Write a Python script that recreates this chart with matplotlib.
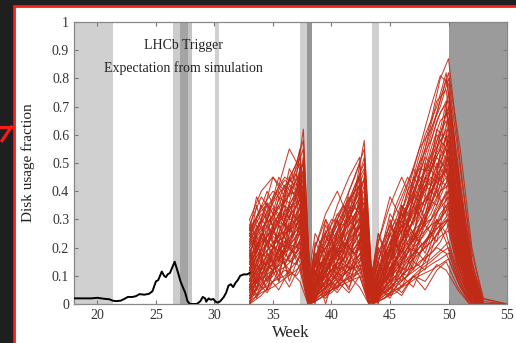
import numpy as np
import matplotlib
matplotlib.use("Agg")
import matplotlib.pyplot as plt
from matplotlib.patches import Rectangle
from matplotlib.lines import Line2D

plt.rcParams['font.family'] = ['Liberation Serif', 'DejaVu Serif']

# measured disk usage (black line)
meas_weeks = [18.0, 18.5, 19.0, 19.5, 20.0, 20.3, 20.7, 21.0, 21.3, 21.6, 22.0, 22.3, 22.6,
              23.0, 23.3, 23.6, 24.0, 24.4, 24.7, 25.0, 25.2, 25.35, 25.5, 25.7, 25.85,
              26.0, 26.2, 26.4, 26.6, 26.75, 26.9, 27.1, 27.3, 27.5, 27.7, 27.9, 28.5,
              28.8, 29.0, 29.2, 29.3, 29.5, 29.7, 29.9, 30.1, 30.3, 30.5, 30.8, 31.0,
              31.2, 31.4, 31.6, 31.8, 32.0, 32.2, 32.5, 32.8, 33.0]
meas_usage = [0.02, 0.02, 0.02, 0.02, 0.022, 0.02, 0.018, 0.017, 0.012, 0.01, 0.012, 0.018, 0.025,
              0.025, 0.028, 0.035, 0.033, 0.036, 0.045, 0.08, 0.085, 0.10, 0.115, 0.10, 0.095,
              0.105, 0.11, 0.13, 0.15, 0.13, 0.11, 0.08, 0.06, 0.04, 0.01, 0.0, 0.0,
              0.01, 0.025, 0.02, 0.008, 0.02, 0.015, 0.018, 0.008, 0.005, 0.01, 0.025, 0.04,
              0.065, 0.07, 0.06, 0.075, 0.085, 0.10, 0.105, 0.105, 0.11]

# simulated trajectories (red lines), values in percent, two sampling grids
sim_weeks_a = [33, 34, 35, 36, 37, 37.6, 38.2, 39, 40, 41, 42, 42.8, 43.5, 44.5, 45.5,
               46.5, 47.5, 48.5, 49.3, 50, 51, 52, 53, 55]
sim_pct_a = [
    [5, 12, 20, 30, 45, 62, 2, 8, 15, 25, 40, 58, 3, 10, 20, 35, 50, 65, 80, 87, 50, 15, 0, 0],
    [10, 18, 25, 22, 35, 48, 0, 5, 12, 18, 30, 45, 0, 12, 25, 40, 55, 70, 81, 78, 40, 10, 0, 0],
    [20, 30, 45, 38, 40, 52, 5, 15, 10, 20, 28, 38, 2, 8, 15, 30, 45, 60, 72, 82, 55, 20, 0, 0],
    [2, 8, 15, 25, 28, 35, 0, 10, 20, 15, 25, 30, 0, 5, 18, 28, 40, 48, 55, 60, 30, 5, 0, 0],
    [15, 25, 20, 30, 38, 44, 3, 12, 22, 30, 42, 50, 5, 20, 30, 28, 38, 45, 42, 55, 28, 8, 0, 0],
    [0, 5, 10, 18, 22, 30, 0, 3, 8, 14, 20, 25, 0, 4, 10, 20, 25, 35, 45, 50, 25, 5, 0, 0],
    [25, 35, 30, 40, 50, 58, 8, 20, 30, 28, 38, 47, 6, 15, 25, 40, 48, 47, 60, 70, 35, 12, 0, 0],
    [8, 15, 12, 20, 26, 32, 0, 6, 15, 22, 18, 28, 0, 8, 12, 18, 28, 30, 38, 45, 20, 3, 0, 0],
    [12, 20, 28, 35, 30, 40, 2, 18, 25, 35, 30, 42, 4, 12, 28, 35, 45, 42, 50, 58, 32, 10, 0, 0],
    [3, 6, 12, 15, 20, 25, 0, 2, 5, 10, 15, 20, 0, 6, 10, 15, 20, 25, 30, 35, 15, 2, 0, 0],
    [18, 28, 38, 45, 42, 50, 4, 10, 20, 32, 40, 52, 2, 18, 35, 45, 38, 50, 62, 75, 42, 15, 0, 0],
    [6, 10, 18, 14, 22, 28, 0, 8, 12, 10, 20, 26, 0, 3, 8, 12, 22, 28, 35, 40, 18, 4, 0, 0],
    [22, 30, 25, 32, 40, 46, 6, 14, 18, 26, 35, 40, 3, 10, 22, 30, 40, 55, 65, 68, 38, 10, 0, 0],
    [0, 3, 8, 10, 15, 18, 0, 4, 8, 12, 10, 15, 0, 2, 6, 10, 15, 18, 22, 28, 12, 0, 0, 0],
    [14, 22, 30, 28, 35, 40, 2, 12, 18, 25, 32, 36, 5, 14, 20, 25, 35, 38, 48, 52, 26, 6, 0, 0],
    [28, 38, 32, 42, 38, 45, 10, 22, 28, 35, 45, 55, 8, 22, 30, 42, 55, 62, 70, 80, 48, 18, 2, 0],
    [4, 10, 14, 20, 18, 24, 0, 5, 10, 8, 14, 18, 0, 5, 12, 10, 18, 25, 28, 32, 14, 2, 0, 0],
    [10, 16, 22, 26, 32, 36, 3, 8, 14, 20, 26, 32, 2, 8, 16, 22, 30, 40, 45, 48, 22, 5, 0, 0],
    [16, 24, 18, 26, 30, 34, 0, 10, 16, 22, 18, 24, 0, 10, 15, 22, 26, 32, 40, 42, 20, 4, 0, 0],
    [30, 40, 45, 40, 48, 55, 5, 16, 24, 32, 42, 48, 6, 16, 28, 38, 50, 58, 68, 72, 40, 14, 0, 0],
    [7, 12, 16, 22, 26, 28, 0, 6, 10, 16, 22, 22, 0, 6, 12, 16, 20, 24, 32, 36, 16, 3, 0, 0],
    [12, 18, 15, 22, 20, 26, 2, 4, 8, 14, 12, 18, 0, 8, 14, 20, 18, 22, 26, 30, 12, 2, 0, 0],
    [20, 26, 34, 30, 38, 42, 4, 12, 20, 18, 28, 34, 2, 12, 18, 26, 32, 42, 48, 55, 30, 8, 0, 0],
    [2, 5, 8, 12, 10, 14, 0, 2, 4, 8, 10, 12, 0, 2, 4, 8, 12, 15, 18, 20, 8, 0, 0, 0],
    [24, 32, 28, 36, 44, 50, 8, 18, 22, 30, 36, 44, 4, 14, 24, 32, 42, 52, 58, 62, 36, 12, 0, 0],
    [9, 14, 20, 18, 24, 30, 2, 8, 12, 18, 22, 28, 0, 6, 10, 18, 22, 30, 34, 38, 18, 4, 0, 0],
    [5, 9, 12, 16, 14, 20, 0, 3, 6, 10, 14, 16, 0, 4, 8, 12, 14, 20, 24, 26, 10, 1, 0, 0],
    [17, 22, 26, 32, 28, 34, 3, 10, 15, 20, 24, 30, 2, 10, 16, 24, 28, 36, 42, 46, 24, 6, 0, 0],
    [13, 19, 24, 20, 28, 32, 1, 7, 12, 16, 20, 24, 0, 7, 13, 18, 24, 28, 30, 34, 16, 3, 0, 0],
    [26, 34, 40, 36, 44, 47, 6, 14, 20, 26, 30, 36, 3, 12, 20, 28, 36, 44, 52, 58, 32, 9, 0, 0],
    [1, 4, 6, 9, 12, 15, 0, 3, 5, 7, 9, 10, 0, 3, 5, 7, 10, 12, 14, 16, 6, 0, 0, 0],
    [19, 25, 20, 28, 24, 30, 2, 9, 14, 12, 18, 22, 0, 9, 14, 12, 20, 24, 28, 30, 14, 2, 0, 0],
    [11, 17, 21, 24, 30, 38, 4, 11, 17, 24, 28, 33, 3, 11, 19, 26, 34, 40, 46, 52, 28, 7, 0, 0],
    [6, 11, 14, 19, 24, 26, 1, 5, 9, 13, 16, 19, 0, 5, 9, 14, 18, 22, 26, 30, 14, 2, 0, 0],
    [23, 29, 36, 42, 46, 38, 3, 13, 19, 28, 34, 30, 2, 13, 22, 30, 36, 48, 55, 50, 28, 8, 0, 0],
    [8, 13, 17, 21, 18, 22, 0, 4, 7, 11, 13, 14, 0, 4, 7, 10, 13, 16, 19, 22, 9, 1, 0, 0],
    [15, 21, 27, 33, 36, 42, 5, 11, 16, 21, 25, 29, 1, 9, 15, 21, 27, 34, 40, 44, 22, 5, 0, 0],
    [3, 7, 11, 13, 17, 20, 0, 2, 5, 8, 11, 13, 0, 2, 5, 8, 11, 14, 16, 18, 7, 0, 0, 0],
    [21, 27, 31, 37, 34, 40, 2, 9, 15, 19, 23, 27, 1, 8, 13, 20, 26, 30, 36, 40, 20, 4, 0, 0],
    [27, 33, 37, 44, 40, 46, 7, 19, 26, 34, 40, 44, 5, 17, 26, 34, 44, 50, 56, 66, 38, 11, 0, 0],
]

sim_weeks_b = [33, 33.6, 34.5, 35.5, 36.4, 37.3, 38.0, 38.6, 39.5, 40.5, 41.5, 42.4, 43.2,
               44.0, 45.0, 46.0, 47.0, 48.0, 49.0, 49.8, 50.8, 51.8, 52.6, 55]
sim_pct_b = [
    [0, 10, 22, 8, 30, 45, 5, 0, 18, 30, 12, 40, 2, 20, 8, 35, 22, 50, 65, 72, 30, 8, 0, 0],
    [30, 22, 10, 28, 20, 38, 0, 15, 5, 25, 35, 20, 0, 10, 30, 15, 40, 30, 55, 62, 25, 4, 0, 0],
    [5, 20, 8, 15, 35, 28, 3, 12, 0, 15, 28, 35, 5, 0, 20, 35, 28, 45, 40, 60, 35, 10, 0, 0],
    [18, 5, 25, 40, 30, 48, 2, 20, 30, 15, 35, 45, 0, 15, 5, 25, 45, 38, 62, 58, 28, 6, 0, 0],
    [12, 25, 35, 20, 10, 30, 0, 5, 15, 30, 20, 28, 3, 25, 12, 20, 30, 50, 45, 70, 40, 12, 0, 0],
    [25, 15, 5, 20, 28, 18, 4, 8, 25, 12, 5, 22, 0, 5, 15, 30, 20, 35, 50, 45, 22, 5, 0, 0],
    [8, 18, 30, 45, 38, 55, 6, 10, 22, 35, 45, 52, 4, 18, 28, 20, 38, 55, 72, 76, 42, 15, 0, 0],
    [2, 12, 5, 18, 12, 22, 0, 10, 4, 12, 20, 15, 0, 12, 22, 10, 18, 28, 22, 38, 15, 3, 0, 0],
    [22, 35, 20, 30, 42, 35, 8, 2, 12, 22, 15, 30, 2, 8, 18, 28, 15, 30, 42, 48, 26, 6, 0, 0],
    [15, 8, 18, 10, 25, 32, 2, 15, 28, 18, 30, 38, 6, 22, 35, 45, 35, 48, 58, 65, 36, 10, 0, 0],
    [0, 6, 15, 25, 15, 20, 0, 3, 10, 5, 15, 10, 0, 4, 12, 6, 15, 12, 25, 30, 12, 2, 0, 0],
    [28, 18, 32, 22, 35, 42, 5, 18, 8, 20, 32, 40, 4, 14, 8, 22, 35, 28, 48, 55, 30, 8, 0, 0],
    [10, 22, 12, 28, 45, 38, 3, 6, 20, 28, 38, 32, 2, 10, 25, 18, 30, 42, 38, 50, 28, 5, 0, 0],
    [20, 12, 28, 35, 22, 30, 0, 12, 5, 18, 8, 18, 0, 6, 3, 15, 25, 20, 32, 40, 18, 3, 0, 0],
    [6, 15, 25, 18, 32, 25, 2, 22, 15, 8, 22, 28, 3, 18, 28, 38, 48, 40, 55, 68, 38, 12, 0, 0],
    [16, 28, 18, 38, 25, 45, 4, 8, 18, 10, 25, 35, 0, 8, 18, 28, 22, 32, 45, 42, 20, 4, 0, 0],
    [3, 8, 18, 12, 20, 15, 0, 6, 12, 20, 12, 20, 2, 5, 10, 20, 12, 22, 30, 25, 10, 1, 0, 0],
    [24, 30, 40, 30, 48, 40, 6, 14, 24, 18, 30, 42, 5, 20, 12, 30, 40, 52, 48, 60, 34, 10, 0, 0],
    [9, 3, 12, 22, 8, 18, 0, 18, 10, 25, 18, 25, 0, 3, 15, 8, 20, 15, 28, 35, 14, 2, 0, 0],
    [14, 24, 15, 25, 40, 50, 3, 10, 30, 22, 40, 50, 6, 15, 32, 25, 45, 60, 70, 82, 45, 15, 1, 0],
    [27, 20, 30, 15, 25, 35, 2, 6, 14, 25, 30, 25, 0, 12, 20, 32, 25, 38, 35, 48, 22, 4, 0, 0],
    [4, 14, 8, 20, 16, 28, 0, 12, 6, 15, 10, 22, 2, 8, 4, 12, 20, 30, 40, 32, 14, 3, 0, 0],
    [19, 10, 22, 30, 45, 52, 8, 25, 18, 32, 28, 45, 3, 25, 15, 35, 30, 45, 60, 55, 28, 6, 0, 0],
    [11, 20, 28, 15, 22, 12, 0, 4, 10, 6, 18, 12, 0, 10, 20, 12, 25, 18, 30, 22, 8, 0, 0, 0],
    [7, 2, 10, 5, 12, 8, 0, 2, 8, 4, 10, 6, 0, 3, 8, 4, 10, 8, 14, 12, 5, 0, 0, 0],
    [21, 30, 22, 32, 26, 40, 5, 14, 20, 12, 25, 30, 4, 12, 22, 30, 38, 35, 45, 52, 25, 6, 0, 0],
    [13, 5, 15, 8, 18, 22, 2, 8, 3, 10, 6, 14, 0, 6, 2, 10, 6, 16, 20, 18, 8, 1, 0, 0],
    [26, 38, 30, 42, 55, 48, 6, 20, 32, 40, 30, 42, 4, 22, 38, 30, 42, 55, 68, 80, 50, 18, 2, 0],
    [1, 8, 4, 12, 6, 14, 0, 5, 2, 8, 4, 10, 0, 2, 6, 3, 10, 5, 12, 15, 6, 0, 0, 0],
    [17, 26, 36, 28, 20, 32, 3, 16, 26, 18, 26, 36, 2, 16, 24, 32, 25, 42, 52, 48, 26, 7, 0, 0],
]

# shaded periods (start week, end week, colour)
bands = [(18.0, 21.35, '#d0d0d0'), (26.5, 27.05, '#cccccc'), (27.05, 27.7, '#a4a4a4'),
         (27.7, 28.05, '#c4c4c4'), (30.05, 30.35, '#d0d0d0'), (37.35, 37.95, '#cfcfcf'),
         (37.95, 38.3, '#959595'), (43.45, 44.1, '#d0d0d0'), (50.0, 55.0, '#9b9b9b')]

fig = plt.figure(figsize=(5.16, 3.43), dpi=100)
fig.patch.set_facecolor('#1f1f1f')
# white panel with red frame
fig.patches.append(Rectangle((0.0271, -0.05), 1.1, 1.0325, transform=fig.transFigure,
                             facecolor='white', edgecolor='#ff1a1a', linewidth=2.0, zorder=-5))
fig.lines.append(Line2D([0.0, 0.022], [0.63, 0.63], transform=fig.transFigure,
                        color='#ff1a1a', linewidth=2.2))
fig.lines.append(Line2D([0.022, 0.004], [0.63, 0.59], transform=fig.transFigure,
                        color='#ff1a1a', linewidth=2.2))

ax = fig.add_axes([0.1434, 0.1137, 0.8392, 0.8222])
ax.set_zorder(5)
for a, b, c in bands:
    ax.axvspan(a, b, color=c, lw=0, zorder=0)

for weeks, rows in [(sim_weeks_a, sim_pct_a), (sim_weeks_b, sim_pct_b)]:
    for row in rows:
        ax.plot(weeks, np.array(row) / 100.0, color='#c22a16', lw=0.75, alpha=0.9, zorder=2)
ax.plot(meas_weeks, meas_usage, color='black', lw=1.4, zorder=3)

ax.set_xlim(18, 55)
ax.set_ylim(0, 1)
ax.set_xticks([20, 25, 30, 35, 40, 45, 50, 55])
ax.set_yticks(np.arange(0, 1.01, 0.1))
ax.set_yticklabels(['0', '0.1', '0.2', '0.3', '0.4', '0.5', '0.6', '0.7', '0.8', '0.9', '1'])
ax.tick_params(direction='in', length=3, width=0.8, color='#777777', labelcolor='#333333',
               labelsize=10, top=True, right=True)
for s in ax.spines.values():
    s.set_color('#888888')
    s.set_linewidth(0.9)
ax.set_xlabel('Week', fontsize=12, color='#222222', labelpad=2)
ax.set_ylabel('Disk usage fraction', fontsize=11, color='#222222', labelpad=12)

ax.text(0.252, 0.915, 'LHCb Trigger', transform=ax.transAxes, ha='center', va='center',
        fontsize=10, color='#222222')
ax.text(0.252, 0.835, 'Expectation from simulation', transform=ax.transAxes, ha='center',
        va='center', fontsize=10, color='#222222')

fig.savefig('out.png', dpi=100, facecolor=fig.get_facecolor())
